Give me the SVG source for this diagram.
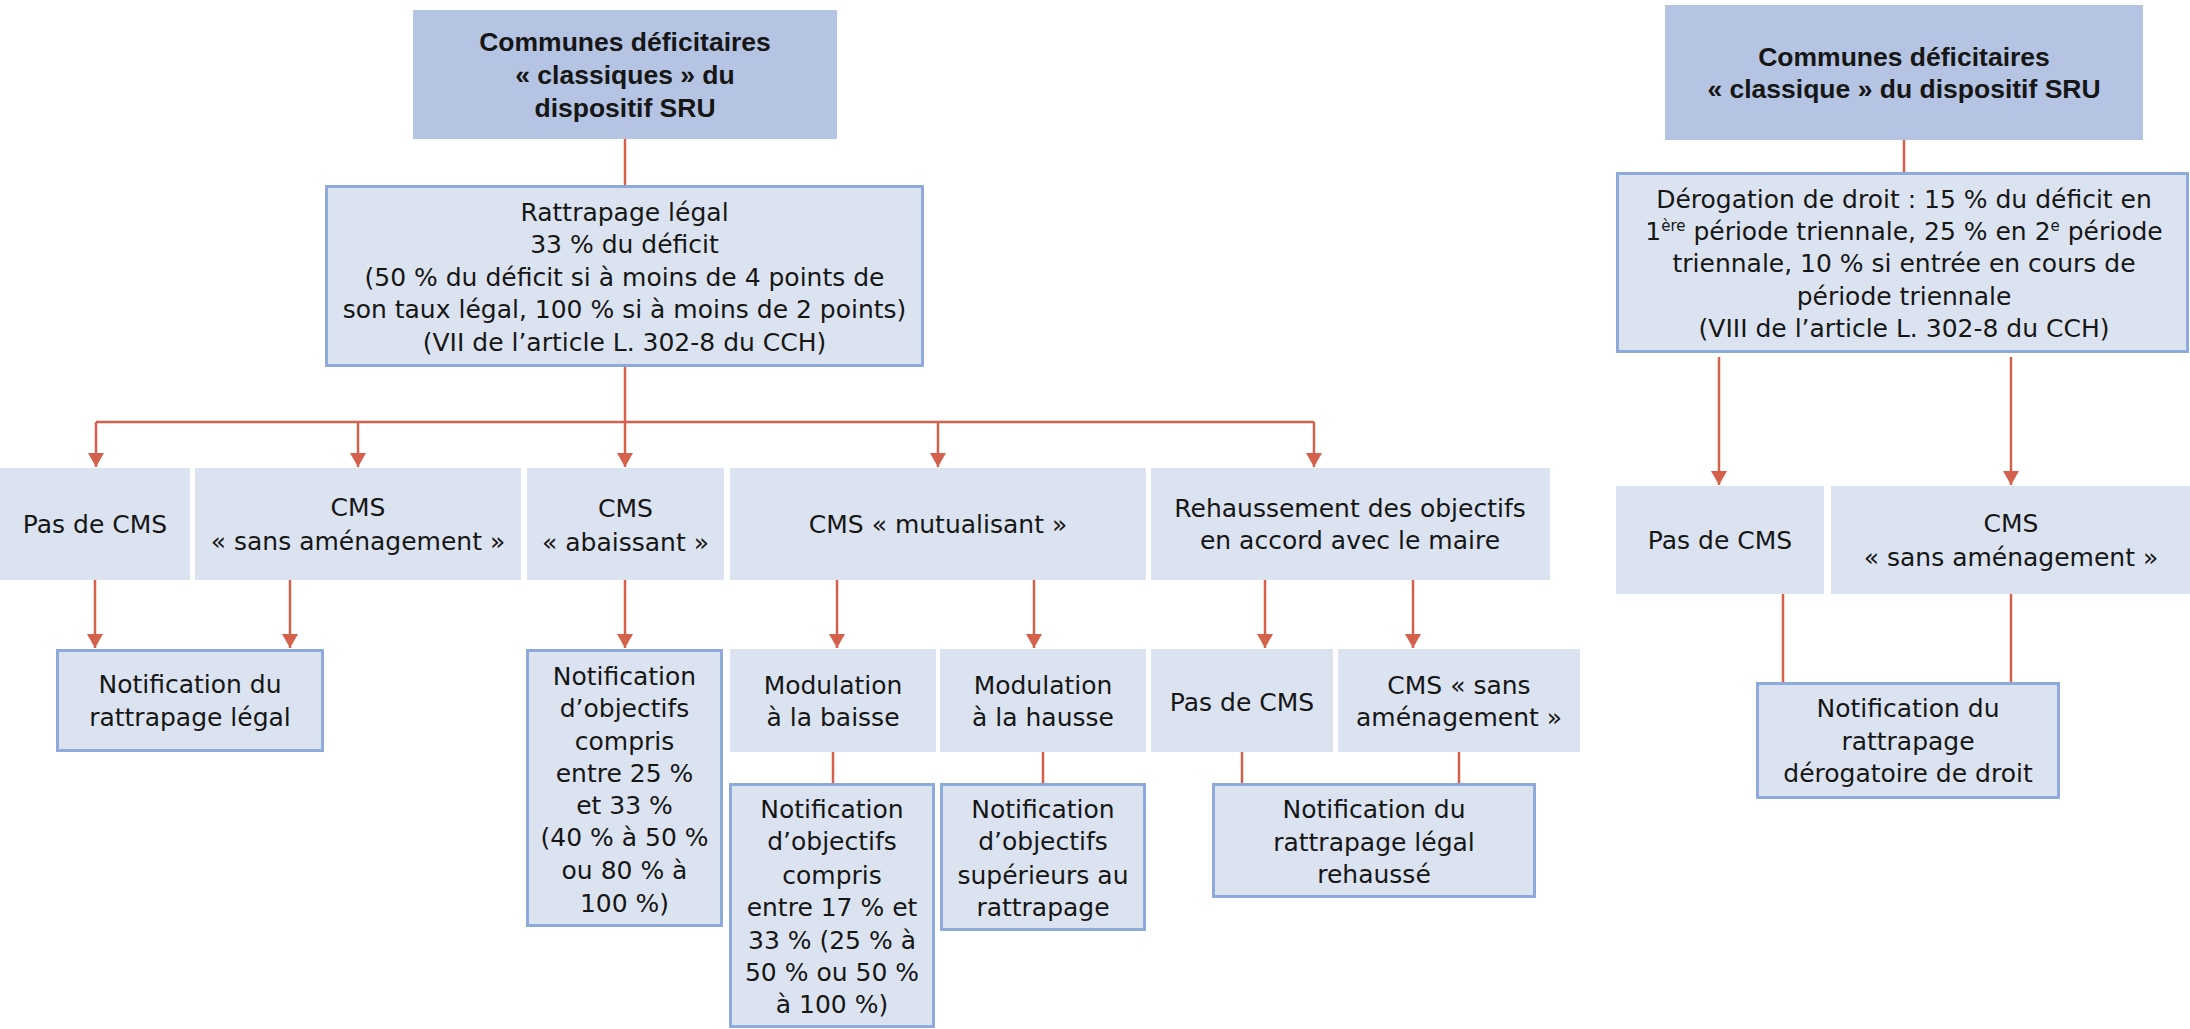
<svg xmlns="http://www.w3.org/2000/svg" width="2190" height="1029" viewBox="0 0 2190 1029">
<style>
.t{font-family:"DejaVu Sans","Noto Sans",sans-serif;font-size:25px;fill:#161616;text-anchor:middle}
.b{font-family:"Liberation Sans",Arial,sans-serif;font-weight:bold;font-size:26.5px}
.dark{fill:#b4c4e2}
.light{fill:#dbe3f0}
.bord{fill:#dbe3f0;stroke:#8eaadb;stroke-width:3}
.c{stroke:#d4614b;stroke-width:2.5;fill:none}
.sup{font-size:15px}
</style>
<defs>
<marker id="ah" markerUnits="userSpaceOnUse" markerWidth="16" markerHeight="16" refX="14" refY="8" orient="auto" viewBox="0 0 16 16">
<path d="M0,0 L14,8 L0,16 z" fill="#d4614b"/>
</marker>
</defs>
<rect width="2190" height="1029" fill="#ffffff"/>

<g id="connectors">
<path class="c" d="M625,139 V185"/>
<path class="c" d="M625,367 V422 M96,422 H1314"/>
<path class="c" marker-end="url(#ah)" d="M96,422 V467"/>
<path class="c" marker-end="url(#ah)" d="M358,422 V467"/>
<path class="c" marker-end="url(#ah)" d="M625,422 V467"/>
<path class="c" marker-end="url(#ah)" d="M938,422 V467"/>
<path class="c" marker-end="url(#ah)" d="M1314,422 V467"/>
<path class="c" marker-end="url(#ah)" d="M95,580 V648"/>
<path class="c" marker-end="url(#ah)" d="M290,580 V648"/>
<path class="c" marker-end="url(#ah)" d="M625,580 V648"/>
<path class="c" marker-end="url(#ah)" d="M837,580 V648"/>
<path class="c" marker-end="url(#ah)" d="M1034,580 V648"/>
<path class="c" marker-end="url(#ah)" d="M1265,580 V648"/>
<path class="c" marker-end="url(#ah)" d="M1413,580 V648"/>
<path class="c" d="M833,752 V783 M1043,752 V783 M1242,752 V783 M1459,752 V783"/>
<path class="c" d="M1904,140 V172"/>
<path class="c" marker-end="url(#ah)" d="M1719,357 V485"/>
<path class="c" marker-end="url(#ah)" d="M2011,357 V485"/>
<path class="c" d="M1783,594 V682 M2011,594 V682"/>
</g>

<g id="top-left">
<rect class="dark" x="413" y="10" width="424" height="129"/>
<text class="t b" x="625"><tspan x="625" y="51">Communes déficitaires</tspan><tspan x="625" y="84">« classiques » du</tspan><tspan x="625" y="117">dispositif SRU</tspan></text>
</g>

<g id="rattrapage">
<rect class="bord" x="326.5" y="186.5" width="596" height="179"/>
<text class="t"><tspan x="624.5" y="221">Rattrapage légal</tspan><tspan x="624.5" y="253">33 % du déficit</tspan><tspan x="624.5" y="286">(50 % du déficit si à moins de 4 points de</tspan><tspan x="624.5" y="318">son taux légal, 100 % si à moins de 2 points)</tspan><tspan x="624.5" y="351">(VII de l’article L. 302-8 du CCH)</tspan></text>
</g>

<g id="pas-cms">
<rect class="light" x="0" y="468" width="190" height="112"/>
<text class="t" x="95" y="533">Pas de CMS</text>
</g>

<g id="cms-sans">
<rect class="light" x="195" y="468" width="326" height="112"/>
<text class="t"><tspan x="358" y="516">CMS</tspan><tspan x="358" y="550">« sans aménagement »</tspan></text>
</g>

<g id="cms-abaissant">
<rect class="light" x="527" y="468" width="197" height="112"/>
<text class="t"><tspan x="625.5" y="517">CMS</tspan><tspan x="625.5" y="551">« abaissant »</tspan></text>
</g>

<g id="cms-mutualisant">
<rect class="light" x="730" y="468" width="416" height="112"/>
<text class="t" x="938" y="533">CMS « mutualisant »</text>
</g>

<g id="rehaussement">
<rect class="light" x="1151" y="468" width="399" height="112"/>
<text class="t"><tspan x="1350" y="517">Rehaussement des objectifs</tspan><tspan x="1350" y="549">en accord avec le maire</tspan></text>
</g>

<g id="notif-legal">
<rect class="bord" x="57.5" y="650.5" width="265" height="100"/>
<text class="t"><tspan x="190" y="693">Notification du</tspan><tspan x="190" y="726">rattrapage légal</tspan></text>
</g>

<g id="notif-abaissant">
<rect class="bord" x="527.5" y="650.5" width="194" height="275"/>
<text class="t"><tspan x="624.5" y="685">Notification</tspan><tspan x="624.5" y="717">d’objectifs</tspan><tspan x="624.5" y="750">compris</tspan><tspan x="624.5" y="782">entre 25 %</tspan><tspan x="624.5" y="814">et 33 %</tspan><tspan x="624.5" y="846">(40 % à 50 %</tspan><tspan x="624.5" y="879">ou 80 % à</tspan><tspan x="624.5" y="912">100 %)</tspan></text>
</g>

<g id="modulation-baisse">
<rect class="light" x="730" y="649" width="206" height="103"/>
<text class="t"><tspan x="833" y="694">Modulation</tspan><tspan x="833" y="726">à la baisse</tspan></text>
</g>

<g id="modulation-hausse">
<rect class="light" x="940" y="649" width="206" height="103"/>
<text class="t"><tspan x="1043" y="694">Modulation</tspan><tspan x="1043" y="726">à la hausse</tspan></text>
</g>

<g id="pas-cms-2">
<rect class="light" x="1151" y="649" width="182" height="103"/>
<text class="t" x="1242" y="711">Pas de CMS</text>
</g>

<g id="cms-sans-2">
<rect class="light" x="1338" y="649" width="242" height="103"/>
<text class="t"><tspan x="1459" y="694">CMS « sans</tspan><tspan x="1459" y="726">aménagement »</tspan></text>
</g>

<g id="notif-baisse">
<rect class="bord" x="730.5" y="784.5" width="203" height="242"/>
<text class="t"><tspan x="832" y="818">Notification</tspan><tspan x="832" y="850">d’objectifs</tspan><tspan x="832" y="884">compris</tspan><tspan x="832" y="916">entre 17 % et</tspan><tspan x="832" y="949">33 % (25 % à</tspan><tspan x="832" y="981">50 % ou 50 %</tspan><tspan x="832" y="1013">à 100 %)</tspan></text>
</g>

<g id="notif-hausse">
<rect class="bord" x="941.5" y="784.5" width="203" height="145"/>
<text class="t"><tspan x="1043" y="818">Notification</tspan><tspan x="1043" y="850">d’objectifs</tspan><tspan x="1043" y="884">supérieurs au</tspan><tspan x="1043" y="916">rattrapage</tspan></text>
</g>

<g id="notif-rehausse">
<rect class="bord" x="1213.5" y="784.5" width="321" height="112"/>
<text class="t"><tspan x="1374" y="818">Notification du</tspan><tspan x="1374" y="851">rattrapage légal</tspan><tspan x="1374" y="883">rehaussé</tspan></text>
</g>

<g id="top-right">
<rect class="dark" x="1665" y="5" width="478" height="135"/>
<text class="t b"><tspan x="1904" y="66">Communes déficitaires</tspan><tspan x="1904" y="98">« classique » du dispositif SRU</tspan></text>
</g>

<g id="derogation">
<rect class="bord" x="1617.5" y="173.5" width="570" height="178"/>
<text class="t"><tspan x="1904" y="208">Dérogation de droit : 15 % du déficit en</tspan><tspan x="1904" y="240">1<tspan class="sup" dy="-9">ère</tspan><tspan dy="9"> période triennale, 25 % en 2</tspan><tspan class="sup" dy="-9">e</tspan><tspan dy="9"> période</tspan></tspan><tspan x="1904" y="272">triennale, 10 % si entrée en cours de</tspan><tspan x="1904" y="305">période triennale</tspan><tspan x="1904" y="337">(VIII de l’article L. 302-8 du CCH)</tspan></text>
</g>

<g id="pas-cms-r">
<rect class="light" x="1616" y="486" width="208" height="108"/>
<text class="t" x="1720" y="549">Pas de CMS</text>
</g>

<g id="cms-sans-r">
<rect class="light" x="1831" y="486" width="359" height="108"/>
<text class="t"><tspan x="2011" y="532">CMS</tspan><tspan x="2011" y="566">« sans aménagement »</tspan></text>
</g>

<g id="notif-derogatoire">
<rect class="bord" x="1757.5" y="683.5" width="301" height="114"/>
<text class="t"><tspan x="1908" y="717">Notification du</tspan><tspan x="1908" y="750">rattrapage</tspan><tspan x="1908" y="782">dérogatoire de droit</tspan></text>
</g>
</svg>
